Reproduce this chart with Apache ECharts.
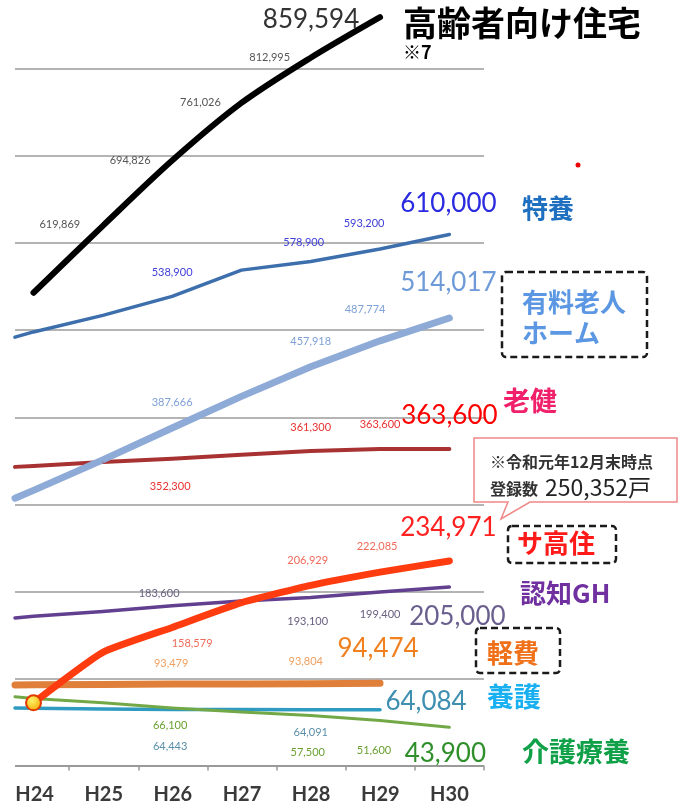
<!DOCTYPE html>
<html><head><meta charset="utf-8">
<script src="https://cdn.jsdelivr.net/npm/echarts@6/dist/echarts.min.js"></script>
<style>html,body{margin:0;padding:0;background:#fff}#c{width:687px;height:809px}</style>
</head><body><div id="c"></div>
<script>
// ---- data ----
const categories = ['H24','H25','H26','H27','H28','H29','H30'];
const koureishaJutaku = [543000, 619869, 694826, 761026, 812995, 859594, null]; // 高齢者向け住宅
const tokuyou = [498000, 517000, 538900, 569000, 578900, 593200, 610000];        // 特養
const yuryou = [316000, 351000, 387666, 424000, 457918, 487774, 514017];         // 有料老人ホーム
const rouken = [344000, 348500, 352300, 357000, 361300, 363600, 363600];         // 老健
const sakoujuu = [72000, 130000, 158579, 187000, 206929, 222085, 234971];        // サ高住
const ninchiGH = [171500, 177000, 183600, 189000, 193100, 199400, 205000];       // 認知GH
const keihi = [92700, 93100, 93479, 93600, 93804, 94474, null];                  // 軽費
const yougo = [65800, 65000, 64443, 64200, 64091, 64084, null];                  // 養護
const kaigoRyouyou = [77000, 72000, 66100, 61500, 57500, 51600, 43900];          // 介護療養
// value where each line enters at the left edge of the plot (segment before H24)
const edgeTokuyou = 492000, edgeYuryou = 307000, edgeRouken = 343000, edgeNinchi = 169500,
      edgeKeihi = 92500, edgeYougo = 66000, edgeKaigo = 79000;
const yTicks = [0, 800000, 100000]; // min, max, interval

// ---- layout / style ----
const X_MIN = -0.267, X_MAX = 6.5;
const fmt = v => v.toLocaleString('en-US');
const S = (o) => ({o, big:false}), B = (o) => ({o, big:true});

function buildData(vals, edge, spec, smallColor, bigColor) {
  const d = [];
  if (edge != null) d.push({value:[X_MIN, edge], symbol:'none'});
  vals.forEach((v, i) => {
    if (v == null) return;
    const item = {value:[i, v]};
    const s = spec[i];
    if (s) {
      item.label = {show:true, position:'inside', offset:s.o, formatter:() => fmt(v),
        fontFamily:'Lato', fontSize:s.big ? 26 : 11, color:s.big ? bigColor : smallColor};
    }
    d.push(item);
  });
  return d;
}
function line(data, color, width, extra) {
  return Object.assign({type:'line', xAxisIndex:0, yAxisIndex:0, data, symbol:'circle', symbolSize:1,
    showSymbol:true, lineStyle:{color, width, cap:'round', join:'round'}, itemStyle:{color},
    emphasis:{disabled:true}, silent:true, animation:false}, extra || {});
}

const series = [
  line(buildData(yougo, edgeYougo, {2:S([-2,37]),4:S([0,23]),5:B([46,-8])}, '#5a8fa8', '#3f8fb0'), '#2f9bc0', 3.5),
  line(buildData(kaigoRyouyou, edgeKaigo, {2:S([-2,18]),4:S([-3,37]),5:S([-6,30]),6:B([-4,26])}, '#6aa030', '#2f8f2a'), '#72a845', 3),
  line(buildData(keihi, edgeKeihi, {2:S([-1,-21]),4:S([-5,-22]),5:B([-2,-35])}, '#f0a060', '#f08020'), '#e07f3a', 7),
  line(buildData(ninchiGH, edgeNinchi, {2:S([-13,-12]),4:S([-3,24]),5:S([0,23]),6:B([8,30])}, '#6a6080', '#6a5f8e'), '#62408f', 3.5),
  line(buildData(rouken, edgeRouken, {2:S([-2,28]),4:S([0,-23]),5:S([0,-24]),6:B([0,-33])}, '#e83030', '#ff0000'), '#a83232', 4),
  line(buildData(yuryou, edgeYuryou, {2:S([0,-26]),4:S([0,-25]),5:S([-15,-31]),6:B([-1,-35])}, '#7ea1d6', '#6e9bd8'), '#8eaad6', 7),
  line(buildData(tokuyou, edgeTokuyou, {2:S([0,-24]),4:S([-7,-19]),5:S([-16,-26]),6:B([-1,-31])}, '#4040d8', '#2a2ae0'), '#3d6fad', 3.5),
  line(buildData(koureishaJutaku, null, {1:S([-43,-1]),2:S([-42,0]),3:S([-41,0]),4:S([-41,0]),5:B([-69,2])}, '#555', '#333'), '#000', 6, {clip:false, smooth:0.3}),
];
const skData = buildData(sakoujuu, null, {2:S([20,16]),4:S([-3,-25]),5:S([-3,-26]),6:B([-1,-33])}, '#f06a5a', '#ff2020');
skData[0].symbol = 'circle';
skData[0].symbolSize = 15;
skData[0].itemStyle = {color:{type:'radial', x:0.4, y:0.35, r:0.7, colorStops:[{offset:0,color:'#fff36a'},{offset:1,color:'#f5a800'}]}, borderColor:'#e23a00', borderWidth:2};
series.push(line(skData, '#ff3c10', 7, {smooth:0.15}));

const txt = (text, x, y, font, fill, align) => ({type:'text', x, y, silent:true,
  style:{text, font, fill, textAlign:align || 'left', textVerticalAlign:'middle'}});
const CJK = '"Noto Sans CJK JP"';
const dashed = (x, y, w, h) => ({type:'rect', silent:true, shape:{x, y, width:w, height:h, r:4},
  style:{fill:'none', stroke:'#1a1a1a', lineWidth:2.5, lineDash:[7,4]}});

const option = {
  backgroundColor:'#fff',
  animation:false,
  grid:[
    {left:15, right:203, top:69, bottom:43.5},
    {left:-1, right:203, top:69, bottom:43.5}
  ],
  xAxis:[
    {type:'value', gridIndex:0, min:X_MIN, max:X_MAX, show:false},
    {type:'category', gridIndex:1, data:categories, boundaryGap:true,
      axisLine:{show:false},
      axisTick:{show:true, length:5, lineStyle:{color:'#999', width:1.5}},
      axisLabel:{fontFamily:'Lato', fontWeight:'bold', fontSize:20, color:'#3a3a3a', margin:19},
      splitLine:{show:false}}
  ],
  yAxis:[
    {type:'value', gridIndex:0, min:yTicks[0], max:yTicks[1], interval:yTicks[2],
      axisLine:{show:false}, axisTick:{show:false}, axisLabel:{show:false},
      splitLine:{lineStyle:{color:['#9a9a9a','#b4b4b4','#b4b4b4','#b4b4b4','#b4b4b4','#b4b4b4','#b4b4b4','#b4b4b4','#b4b4b4'], width:2}}},
    {type:'value', gridIndex:1, min:yTicks[0], max:yTicks[1], show:false, splitLine:{show:false}}
  ],
  series,
  graphic:[
    {type:'rect', silent:true, z:100, shape:{x:0, y:764, width:12, height:14}, style:{fill:'#fff'}},
    {type:'polygon', silent:true, shape:{points:[[474,438],[677,438],[677,502],[530,502],[501,519],[508,502],[474,502]]},
      style:{fill:'#fff', stroke:'#f08888', lineWidth:1.5}},
    txt('※令和元年12月末時点', 490, 462, 'bold 16px ' + CJK, '#333'),
    txt('登録数', 490, 489, 'bold 16px ' + CJK, '#333'),
    txt('250,352戸', 545, 487, '23px ' + CJK, '#222'),
    dashed(502, 272, 145, 85),
    dashed(508, 526, 108, 37),
    dashed(476, 628, 84, 45),
    txt('高齢者向け住宅', 403, 23, 'bold 34px ' + CJK, '#000'),
    txt('※7', 403, 52, 'bold 18px ' + CJK, '#000'),
    txt('特養', 522, 208, 'bold 26px ' + CJK, '#1f6fc0'),
    txt('有料老人', 522, 302, 'bold 26px ' + CJK, '#5b97e2'),
    txt('ホーム', 522, 333, 'bold 26px ' + CJK, '#5b97e2'),
    txt('老健', 503, 401, 'bold 27px ' + CJK, '#f0216a'),
    txt('サ高住', 517, 543, 'bold 26px ' + CJK, '#ff1a1a'),
    txt('認知GH', 520, 593, 'bold 26px ' + CJK, '#7030a0'),
    txt('軽費', 487, 653, 'bold 26px ' + CJK, '#f07018'),
    txt('養護', 487, 697, 'bold 27px ' + CJK, '#18b0f0'),
    txt('介護療養', 522, 752, 'bold 27px ' + CJK, '#10a048'),
    {type:'circle', silent:true, shape:{cx:578, cy:165, r:2.5}, style:{fill:'#e00'}}
  ]
};
const chart = echarts.init(document.getElementById('c'), null, {renderer:'canvas'});
chart.setOption(option);
</script>
</body></html>
